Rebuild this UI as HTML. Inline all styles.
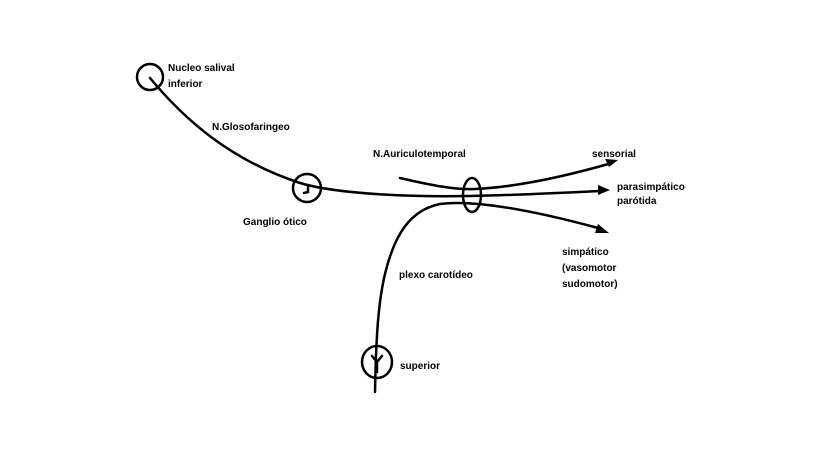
<!DOCTYPE html>
<html><head><meta charset="utf-8"><style>
html,body{margin:0;padding:0;background:#fff;}
svg{display:block;}
text{font-family:"Liberation Sans",sans-serif;font-size:10px;font-weight:bold;fill:#000;}
</style></head><body>
<svg width="819" height="452" viewBox="0 0 819 452" xmlns="http://www.w3.org/2000/svg">
<g fill="none" stroke="#000" stroke-width="2.5" stroke-linecap="round">
<circle cx="150" cy="77" r="13"/>
<path d="M150,78 C185,120 230,160 300,183 C340,195 420,197 470,196 C520,195 560,193 600,191"/>
<circle cx="307" cy="188" r="14"/>
<path d="M308,185 L308,192 L304,193"/>
<path d="M400,178 C430,185 455,190 475,189 C520,187 570,175 612,163"/>
<path d="M375,392 C376,340 378,300 386,270 C395,235 410,210 440,204 C470,200 520,207 598,228"/>
<ellipse cx="472" cy="195" rx="9" ry="17"/>
<ellipse cx="377" cy="362" rx="15" ry="16"/>
<path d="M377,362 L372,356 M377,362 L382,356 M377,362 L377,372"/>
</g>
<g fill="#000">
<polygon points="618,160 605,159 609,167"/>
<polygon points="610,190 598,185 598,195"/>
<polygon points="609,233 598,224 595,233"/>
</g>
<text x="168" y="71">Nucleo salival</text>
<text x="168" y="87">inferior</text>
<text x="212" y="130">N.Glosofaringeo</text>
<text x="243" y="225">Ganglio ótico</text>
<text x="373" y="157">N.Auriculotemporal</text>
<text x="592" y="157">sensorial</text>
<text x="617" y="190">parasimpático</text>
<text x="617" y="204">parótida</text>
<text x="562" y="255">simpático</text>
<text x="562" y="271">(vasomotor</text>
<text x="562" y="287">sudomotor)</text>
<text x="399" y="278">plexo carotídeo</text>
<text x="400" y="369">superior</text>
</svg>
</body></html>
